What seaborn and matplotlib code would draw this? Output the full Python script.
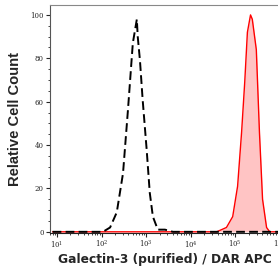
import numpy as np
import pandas as pd
import matplotlib
matplotlib.use("Agg")
import matplotlib.pyplot as plt
import seaborn as sns
from matplotlib.ticker import LogLocator, MultipleLocator, FixedLocator

# ── Data (log10 fluorescence, relative count) ──
ctrl_log = [0.9, 1.5, 2.03, 2.19, 2.34, 2.48, 2.59, 2.70, 2.79, 2.81, 2.86,
            2.92, 3.01, 3.08, 3.15, 3.26, 3.42, 3.6, 4.5, 6.0]
ctrl_count = [0, 0, 0, 2, 9, 27, 56, 87, 98, 90, 79,
              61, 38, 18, 7, 1, 1, 0, 0, 0]

stain_log = [0.9, 3.0, 4.58, 4.80, 4.94, 5.05, 5.14, 5.21, 5.27, 5.34, 5.38,
             5.47, 5.54, 5.61, 5.70, 5.77, 6.0]
stain_count = [0, 0, 0, 2, 7, 21, 46, 69, 92, 100, 98,
               84, 46, 15, 2, 0, 0]

x_label = "Galectin-3 (purified) / DAR APC"
y_label = "Relative Cell Count"
y_ticks = [0, 20, 40, 60, 80, 100]

ctrl = pd.DataFrame({"x": np.power(10.0, ctrl_log), "y": ctrl_count})
stain = pd.DataFrame({"x": np.power(10.0, stain_log), "y": stain_count})

sns.set_style("ticks")

fig = plt.figure(figsize=(2.78, 2.74), dpi=100)
ax = fig.add_axes([0.18, 0.15, 0.827, 0.832])

ax.fill_between(stain["x"], stain["y"], color="#ffc4c4", linewidth=0)
sns.lineplot(data=stain, x="x", y="y", ax=ax, color="#ff0000", linewidth=1.0,
             estimator=None, sort=False)
sns.lineplot(data=ctrl, x="x", y="y", ax=ax, color="black", linewidth=1.4,
             estimator=None, sort=False, dashes=False)
ax.lines[-1].set_dashes([4.5, 2.2])

ax.set_xscale("log")
ax.set_xlim(10 ** 0.843, 10 ** 6.0)
ax.set_ylim(-0.5, 104.6)

ax.yaxis.set_major_locator(FixedLocator(y_ticks))
ax.yaxis.set_minor_locator(MultipleLocator(5))
ax.xaxis.set_major_locator(LogLocator(base=10, numticks=10))
ax.xaxis.set_minor_locator(LogLocator(base=10, subs=np.arange(2, 10), numticks=20))

for lab in ax.get_xticklabels() + ax.get_yticklabels():
    lab.set_fontfamily("DejaVu Serif")
ax.tick_params(axis="both", which="major", labelsize=5, length=3, width=0.8, pad=1.5)
ax.tick_params(axis="both", which="minor", length=1.5, width=0.6)

for s in ["top", "right"]:
    ax.spines[s].set_visible(True)
    ax.spines[s].set_color("#888888")
    ax.spines[s].set_linewidth(0.8)
ax.spines["left"].set_color("#555555")
ax.spines["left"].set_linewidth(0.8)
ax.spines["bottom"].set_color("#222222")
ax.spines["bottom"].set_linewidth(0.8)

ax.set_xlabel(x_label, fontsize=8.8, fontweight="bold", fontfamily="DejaVu Sans", labelpad=2)
ax.set_ylabel(y_label, fontsize=10.6, fontweight="bold", fontfamily="Liberation Sans", labelpad=6)

fig.savefig("out.png", dpi=100)
